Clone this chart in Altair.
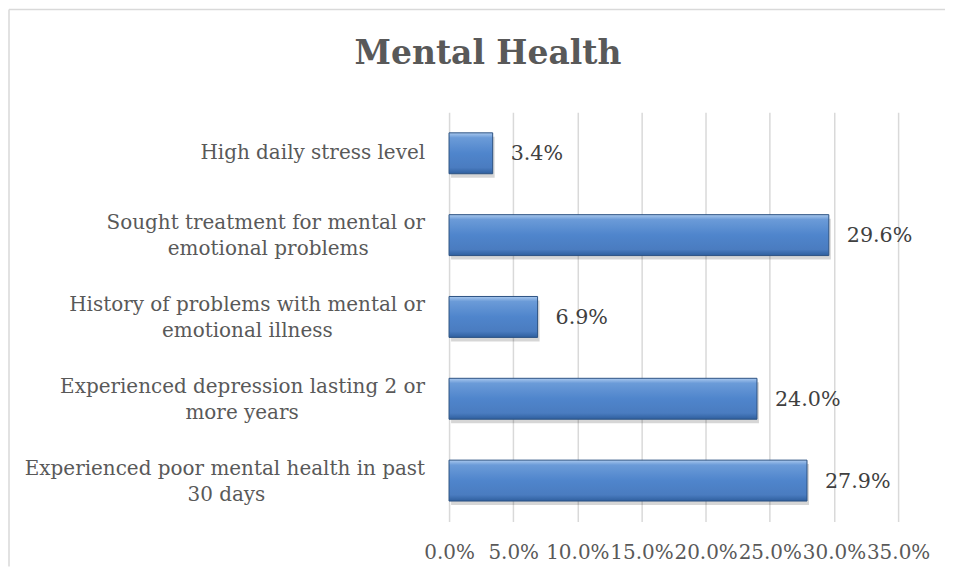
import altair as alt
import pandas as pd

categories = [
    "High daily stress level",
    "Sought treatment for mental or\nemotional problems",
    "History of problems with mental or\nemotional illness",
    "Experienced depression lasting 2 or\nmore years",
    "Experienced poor mental health in past\n30 days",
]
values = [3.4, 29.6, 6.9, 24.0, 27.9]
x_ticks = [0, 5, 10, 15, 20, 25, 30, 35]
title_text = "Mental Health"

df = pd.DataFrame({"cat": categories, "val": values})
df["lab"] = [f"{v:.1f}%" for v in values]

FONT = "DejaVu Serif"
FS = 20
TXT = "#595959"
W, H = 450, 410
LAB_RIGHT = -24          # right edge of the category labels, px left of the plot
CHAR_W = 10.48           # approx. average glyph width of FONT at FS

xs = alt.X("val:Q", scale=alt.Scale(domain=[0, 35], nice=False),
           axis=alt.Axis(values=x_ticks, labelExpr="format(datum.value, '.1f') + '%'",
                         title=None, grid=True, gridColor="#d9d9d9", gridWidth=1.5,
                         domain=False, ticks=False, labelPadding=21, labelOverlap=False,
                         labelFlush=False,
                         labelFont=FONT, labelFontSize=FS, labelColor=TXT))
yscale = alt.Scale(paddingInner=0.5, paddingOuter=0.25)
ys = alt.Y("cat:N", sort=None, scale=yscale,
           axis=alt.Axis(title=None, domain=False, ticks=False, labels=False, grid=False))

base = alt.Chart(df)

shadow = base.mark_bar(color="#000000", opacity=0.16, xOffset=2, yOffset=4).encode(x=xs, y=ys)

grad = alt.Gradient(gradient="linear", x1=0, y1=0, x2=0, y2=1, stops=[
    alt.GradientStop(color="#a9c8ee", offset=0),
    alt.GradientStop(color="#6b9bd8", offset=0.12),
    alt.GradientStop(color="#4f85cc", offset=0.5),
    alt.GradientStop(color="#4a7cc0", offset=0.85),
    alt.GradientStop(color="#2f5f9e", offset=1),
])
bars = base.mark_bar(color=grad, stroke="#2c5283", strokeWidth=1).encode(x=xs, y=ys)

labels = base.mark_text(align="left", baseline="middle", dx=18, dy=1, font=FONT,
                        fontSize=20.7, color="#404040").encode(x=xs, y=ys, text="lab:N")

# category labels: block right-aligned, lines centred on each other
cat_base = base.transform_calculate(
    l1="split(datum.cat, '\\n')[0]",
    l2="indexof(datum.cat, '\\n') < 0 ? '' : split(datum.cat, '\\n')[1]",
).transform_calculate(
    cx=f"{LAB_RIGHT} - length(datum.l1) * {CHAR_W} / 2"
)
ytxt = alt.Y("cat:N", sort=None, scale=yscale)
single = cat_base.transform_filter("datum.l2 == ''").mark_text(
    align="right", baseline="middle", font=FONT, fontSize=FS, color=TXT
).encode(x=alt.value(LAB_RIGHT), y=ytxt, text="l1:N")
line1 = cat_base.transform_filter("datum.l2 != ''").mark_text(
    align="right", baseline="middle", dy=-12, font=FONT, fontSize=FS, color=TXT
).encode(x=alt.value(LAB_RIGHT), y=ytxt, text="l1:N")
line2 = cat_base.transform_filter("datum.l2 != ''").mark_text(
    align="center", baseline="middle", dy=14, font=FONT, fontSize=FS, color=TXT
).encode(x=alt.X("cx:Q", scale=None), y=ytxt, text="l2:N")

title = alt.Chart(pd.DataFrame({"t": [title_text]})).mark_text(
    font=FONT, fontSize=33, fontWeight="bold", color=TXT, align="center", baseline="middle"
).encode(x=alt.value(39), y=alt.value(-58), text="t:N")

top_border = alt.Chart(pd.DataFrame({"a": [0]})).mark_rule(color="#d9d9d9", strokeWidth=1.5).encode(
    x=alt.value(-441), x2=alt.value(497), y=alt.value(-103))
left_border = alt.Chart(pd.DataFrame({"a": [0]})).mark_rule(color="#d9d9d9", strokeWidth=1.5).encode(
    x=alt.value(-441), y=alt.value(-103), y2=alt.value(455))

chart = alt.layer(top_border, left_border, title, shadow, bars, labels, single, line1, line2).properties(
    width=W, height=H, padding=0, background="white",
    autosize=alt.AutoSizeParams(type="pad"),
).configure_view(stroke=None)

chart.save("out.html", embed_options={"renderer": "svg", "actions": False})
